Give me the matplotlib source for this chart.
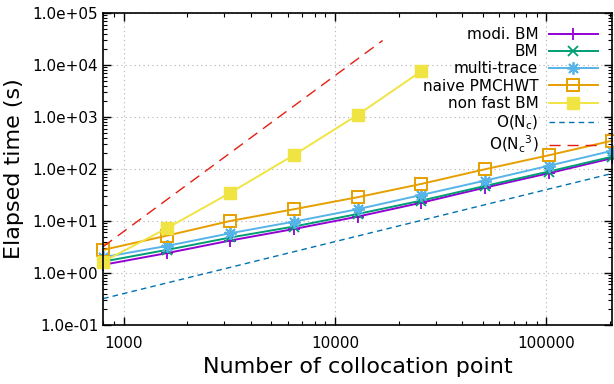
import numpy as np
import matplotlib.pyplot as plt
from matplotlib.ticker import FixedLocator, FuncFormatter, LogLocator, NullFormatter

plt.rcParams['mathtext.default'] = 'regular'

# Number of collocation points
n_points = [800, 1600, 3200, 6400, 12800, 25600, 51200, 102400, 204800]

# Elapsed time (s)
t_modi_bm = [1.43, 2.4, 4.2, 7.0, 12.1, 22.4, 43.7, 82.6, 161]
t_bm = [1.65, 2.77, 4.8, 7.8, 13.6, 24.6, 47, 89, 172]
t_multi_trace = [2.0, 3.3, 5.8, 9.7, 16.8, 31.6, 59.6, 115, 224]
t_naive_pmchwt = [2.77, 5.2, 10.0, 16.8, 28.6, 51.5, 98.6, 183, 350]
n_non_fast = [800, 1600, 3200, 6400, 12800, 25600]
t_non_fast_bm = [1.65, 7.2, 35, 186, 1100, 7600]

# reference slopes
n_order1 = [800, 204800]
t_order1 = [0.32, 0.32 * 256]
n_order3 = [800, 16800]
t_order3 = [3.2, 3.2 * (16800 / 800) ** 3]

fig = plt.figure(figsize=(6.14, 3.84), dpi=100)
ax = fig.add_axes([0.168, 0.154, 0.829, 0.812])

lw = 1.4
ax.plot(n_points, t_modi_bm, color='#9400d3', lw=lw, marker='+', ms=8, mew=1.3, label='modi. BM',
        clip_on=False)
ax.plot(n_points, t_bm, color='#009e73', lw=lw, marker='x', ms=7, mew=1.3, label='BM', clip_on=False)
ax.plot(n_points, t_multi_trace, color='#56b4e9', lw=lw, marker=(8, 2, 0), ms=9, mew=1.3,
        label='multi-trace', clip_on=False)
ax.plot(n_points, t_naive_pmchwt, color='#e69f00', lw=lw, marker='s', ms=8, mfc='none', mew=1.4,
        label='naive PMCHWT', clip_on=False)
ax.plot(n_non_fast, t_non_fast_bm, color='#f0e442', lw=lw, marker='s', ms=9, label='non fast BM',
        clip_on=False)
ax.plot(n_order1, t_order1, color='#0072b2', lw=1.0, ls=(0, (4, 3)), label='O(N$_c$)')
ax.plot(n_order3, t_order3, color='#e51e10', lw=1.0, ls=(0, (8, 5)), label='O(N$_c$${}^3$)')

ax.set_xscale('log')
ax.set_yscale('log')
ax.set_xlim(800, 204800)
ax.set_ylim(0.1, 1e5)

ax.xaxis.set_major_locator(FixedLocator([1000, 10000, 100000]))
ax.xaxis.set_major_formatter(FuncFormatter(lambda v, p: '%d' % v))
ax.xaxis.set_minor_locator(LogLocator(base=10, subs=np.arange(2, 10)))
ax.xaxis.set_minor_formatter(NullFormatter())
ax.yaxis.set_major_locator(FixedLocator([10.0 ** k for k in range(-1, 6)]))
ax.yaxis.set_major_formatter(FuncFormatter(lambda v, p: '%.1e' % v))
ax.yaxis.set_minor_locator(LogLocator(base=10, subs=np.arange(2, 10)))
ax.yaxis.set_minor_formatter(NullFormatter())

ax.tick_params(which='both', direction='in', top=True, right=True, labelsize=11, colors='black')
ax.tick_params(which='major', length=6, width=1)
ax.tick_params(which='minor', length=3, width=0.8)
ax.tick_params(axis='x', pad=8)
for s in ax.spines.values():
    s.set_linewidth(1.2)

ax.grid(True, which='major', color='#b0b0b0', ls=(0, (1, 3)), lw=0.8)

ax.set_xlabel('Number of collocation point', fontsize=16, labelpad=4)
ax.set_ylabel('Elapsed time (s)', fontsize=16, labelpad=6)

leg = ax.legend(loc='upper right', bbox_to_anchor=(0.99, 0.985), frameon=False, markerfirst=False,
                fontsize=11, handlelength=3.2, labelspacing=0.15, borderaxespad=0.2, handletextpad=0.7)
# right-align the legend rows like gnuplot does
for col in leg._legend_handle_box.get_children():
    col.align = 'right'

fig.savefig('out.png', dpi=100)
